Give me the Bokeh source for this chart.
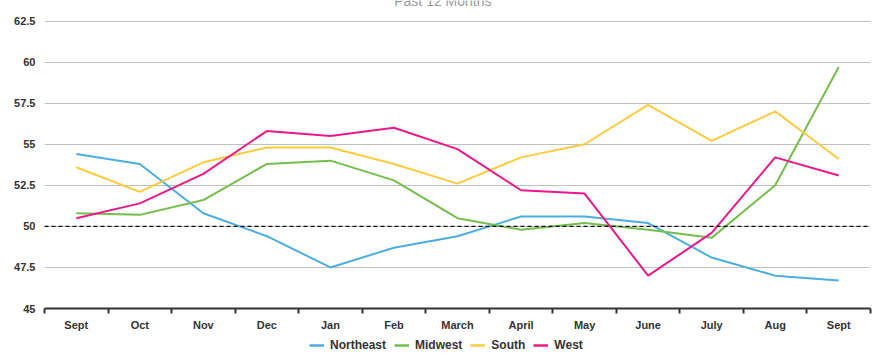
from bokeh.plotting import figure
from bokeh.layouts import column
from bokeh.models import FixedTicker, Span, Legend, LegendItem, Label, Range1d
from bokeh.embed import file_html
from bokeh.resources import INLINE

categories = ["Sept", "Oct", "Nov", "Dec", "Jan", "Feb", "March", "April", "May", "June", "July", "Aug", "Sept"]
northeast = [54.4, 53.8, 50.8, 49.4, 47.5, 48.7, 49.4, 50.6, 50.6, 50.2, 48.1, 47.0, 46.7]
midwest = [50.8, 50.7, 51.6, 53.8, 54.0, 52.8, 50.5, 49.8, 50.2, 49.8, 49.3, 52.5, 59.7]
south = [53.6, 52.1, 53.9, 54.8, 54.8, 53.8, 52.6, 54.2, 55.0, 57.4, 55.2, 57.0, 54.1]
west = [50.5, 51.4, 53.2, 55.8, 55.5, 56.0, 54.7, 52.2, 52.0, 47.0, 49.6, 54.2, 53.1]
y_ticks = [45, 47.5, 50, 52.5, 55, 57.5, 60, 62.5]
y_labels = ["45", "47.5", "50", "52.5", "55", "57.5", "60", "62.5"]
series_names = ["Northeast", "Midwest", "South", "West"]
colors = ["#4aaee0", "#74bf4b", "#fecb3e", "#ec178a"]
title_text = "Past 12 Months"

n = len(categories)
xs = [i + 0.5 for i in range(n)]
series = [northeast, midwest, south, west]

p = figure(width=892, height=333, output_backend="svg", toolbar_location=None,
           x_range=Range1d(0, n), y_range=Range1d(45, 63.75),
           min_border_left=44, min_border_right=22, min_border_top=0, min_border_bottom=24)
p.outline_line_color = None
p.background_fill_color = "white"
p.border_fill_color = "white"

# grid
p.xgrid.visible = False
p.ygrid.ticker = FixedTicker(ticks=y_ticks)
p.ygrid.grid_line_color = "#c0c0c0"
p.ygrid.grid_line_width = 1

# y axis
p.yaxis.ticker = FixedTicker(ticks=y_ticks)
p.yaxis.major_label_overrides = {t: l for t, l in zip(y_ticks, y_labels)}
p.yaxis.axis_line_color = None
p.yaxis.major_tick_line_color = None
p.yaxis.minor_tick_line_color = None
p.yaxis.major_tick_out = 0
p.yaxis.major_tick_in = 0
p.yaxis.major_label_standoff = 9
p.yaxis.major_label_text_font = "Liberation Sans"
p.yaxis.major_label_text_font_style = "bold"
p.yaxis.major_label_text_font_size = "11px"
p.yaxis.major_label_text_color = "#333333"

# x axis
p.xaxis.ticker = FixedTicker(ticks=xs, minor_ticks=list(range(n + 1)))
p.xaxis.major_label_overrides = {x: c for x, c in zip(xs, categories)}
p.xaxis.axis_line_color = "#333333"
p.xaxis.axis_line_width = 2
p.xaxis.major_tick_line_color = None
p.xaxis.major_tick_out = 0
p.xaxis.major_tick_in = 0
p.xaxis.minor_tick_line_color = "#333333"
p.xaxis.minor_tick_line_width = 2
p.xaxis.minor_tick_out = 5
p.xaxis.minor_tick_in = 0
p.xaxis.major_label_standoff = 5
p.xaxis.major_label_text_font = "Liberation Sans"
p.xaxis.major_label_text_font_style = "bold"
p.xaxis.major_label_text_font_size = "11px"
p.xaxis.major_label_text_color = "#333333"

p.add_layout(Span(location=50, dimension="width", line_color="black",
                  line_width=1.2, line_dash="4 3"))

for name, data, col in zip(series_names, series, colors):
    p.line(xs, data, line_color=col, line_width=2)

title = Label(x=6.27, y=63.75, text=title_text, text_font="Liberation Sans",
              text_font_size="14px", text_color="#999999", text_align="center",
              text_baseline="alphabetic")
p.add_layout(title)

# legend strip (series lines drawn out of its view; only the legend shows)
lf = figure(width=892, height=24, output_backend="svg", toolbar_location=None,
            x_range=Range1d(0, 1), y_range=Range1d(0, 1),
            min_border_left=0, min_border_right=0, min_border_top=0, min_border_bottom=0)
lf.axis.visible = False
lf.grid.visible = False
lf.outline_line_color = None
lf.border_fill_color = "white"
items = []
for name, data, col in zip(series_names, series, colors):
    r = lf.line(xs, data, line_color=col, line_width=2.5)
    items.append(LegendItem(label=name, renderers=[r]))
legend = Legend(items=items, orientation="horizontal", location=(265, 5),
                label_text_font="Liberation Sans", label_text_font_style="bold",
                label_text_font_size="12px", label_text_color="#333333",
                glyph_width=15, glyph_height=12, label_standoff=6, spacing=8,
                padding=0, margin=0, border_line_color=None, background_fill_alpha=0,
                label_height=12)
lf.add_layout(legend, "center")

layout = column(p, lf, spacing=0)
open("out.html", "w").write(file_html(layout, INLINE))
